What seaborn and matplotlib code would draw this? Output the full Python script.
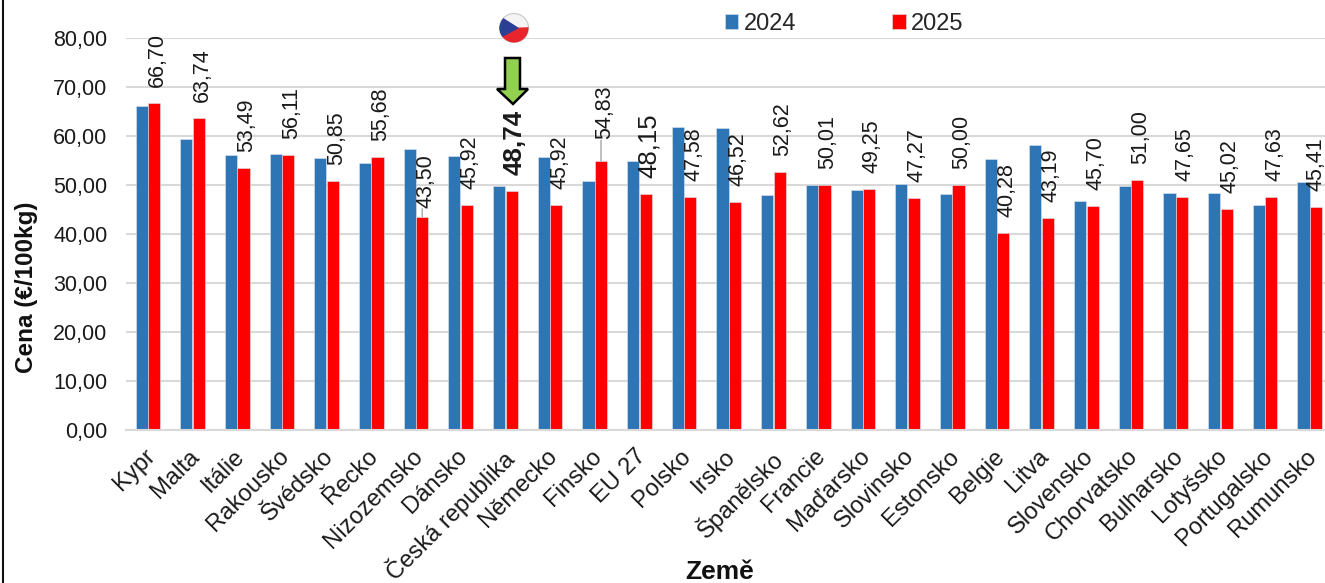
import matplotlib
matplotlib.use("Agg")
import matplotlib.pyplot as plt
from matplotlib.patches import Circle, Polygon
from matplotlib.transforms import ScaledTranslation
import pandas as pd
import seaborn as sns

# data
countries = ["Kypr", "Malta", "Itálie", "Rakousko", "Švédsko", "Řecko", "Nizozemsko", "Dánsko",
             "Česká republika", "Německo", "Finsko", "EU 27", "Polsko", "Irsko", "Španělsko",
             "Francie", "Maďarsko", "Slovinsko", "Estonsko", "Belgie", "Litva", "Slovensko",
             "Chorvatsko", "Bulharsko", "Lotyšsko", "Portugalsko", "Rumunsko"]
prices_2024 = [66.2, 59.4, 56.2, 56.4, 55.6, 54.5, 57.4, 56.0, 49.7, 55.7, 50.9, 54.8, 61.8, 61.6,
               48.0, 50.1, 48.9, 50.3, 48.1, 55.4, 58.2, 46.8, 49.7, 48.4, 48.3, 45.9, 50.7]
prices_2025 = [66.70, 63.74, 53.49, 56.11, 50.85, 55.68, 43.50, 45.92, 48.74, 45.92, 54.83, 48.15,
               47.58, 46.52, 52.62, 50.01, 49.25, 47.27, 50.00, 40.28, 43.19, 45.70, 51.00, 47.65,
               45.02, 47.63, 45.41]
y_ticks = [0, 10, 20, 30, 40, 50, 60, 70, 80]

df = pd.DataFrame({
    "Země": countries * 2,
    "Cena": prices_2024 + prices_2025,
    "Rok": ["2024"] * len(countries) + ["2025"] * len(countries),
})

sns.set_theme(style="white")
plt.rcParams["font.family"] = ["Liberation Sans", "DejaVu Sans"]

W, H = 1325, 583
fig = plt.figure(figsize=(W / 100, H / 100), dpi=100)
ax = fig.add_axes([125.5 / W, (H - 430) / H, (W - 125.5) / W, 392 / H])

sns.barplot(data=df, x="Země", y="Cena", hue="Rok", palette={"2024": "#2e75b6", "2025": "#ff0000"},
            saturation=1, width=0.56, gap=0.03, edgecolor="#dde6f0", linewidth=0.4, ax=ax)

ax.set_xlim(-0.5, 26.34)
ax.set_ylim(0, 80)
ax.set_yticks(y_ticks)
ax.set_yticklabels([f"{t},00" for t in y_ticks], fontsize=15.5, color="#1a1a1a")
ax.tick_params(axis="both", length=0)
ax.tick_params(axis="y", pad=13)
ax.tick_params(axis="x", pad=11)
ax.set_xticks(range(len(countries)))
ax.set_xticklabels(countries, rotation=45, ha="right", va="top", rotation_mode="anchor",
                   fontsize=17.1, color="#1a1a1a")
# nudge the slanted names a little to the left
nudge = ScaledTranslation(-3 / 72, 0, fig.dpi_scale_trans)
for lab in ax.get_xticklabels():
    lab.set_transform(lab.get_transform() + nudge)
ax.grid(axis="y", color="#d9d9d9", linewidth=1.5)
ax.set_axisbelow(True)
sns.despine(ax=ax, left=True, top=True, right=True)
ax.spines["bottom"].set_color("#d9d9d9")
ax.spines["bottom"].set_linewidth(1.5)

ax.set_ylabel("Cena (€/100kg)", fontsize=17.5, fontweight="bold", color="#111111")
ax.yaxis.set_label_coords(-87 / 1199, 0.365)
ax.set_xlabel("Země", fontsize=19, fontweight="bold", color="#111111", va="center")
ax.xaxis.set_label_coords(594 / 1199, -142 / 392)

# labels sit 16 px over the red bars, apart from these two
label_gap = {"Nizozemsko": 9, "Finsko": 22}
label_style = {"Česká republika": {"fontsize": 18.7, "fontweight": "bold"},
               "EU 27": {"fontsize": 18.5}}

for bar, name, val in zip(ax.containers[1], countries, prices_2025):
    gap = label_gap.get(name, 16)
    style = label_style.get(name, {"fontsize": 15.5})
    xc = bar.get_x() + bar.get_width() / 2
    # last label would run off the right edge
    dx = 0 if name == "Rumunsko" else 2.4
    ax.annotate(f"{val:.2f}".replace(".", ","), xy=(xc, val), xytext=(dx, gap * 0.72),
                textcoords="offset points", rotation=90, ha="center", va="bottom",
                color="#1a1a1a", **style)
    if name in label_gap:
        # grey leader line straight up from the bar
        ax.annotate("", xy=(xc, val), xytext=(0, (gap - 1) * 0.72), textcoords="offset points",
                    arrowprops={"arrowstyle": "-", "color": "#a6a6a6", "lw": 1, "shrinkA": 0, "shrinkB": 0})

sns.move_legend(ax, "center", bbox_to_anchor=(844 / W, (H - 24) / H), bbox_transform=fig.transFigure,
                ncol=2, title=None, frameon=False, fontsize=17, handlelength=0.58, handleheight=0.58,
                handletextpad=0.22, columnspacing=4.05)

# overlay in pixel coordinates for the flag, arrow and the frame edge
over = fig.add_axes([0, 0, 1, 1], facecolor="none")
over.set_xlim(0, W)
over.set_ylim(H, 0)
over.axis("off")

disc = Circle((514, 28), 14.5, facecolor="#f4f4f4", edgecolor="#c8c8c8", linewidth=0.8)
over.add_patch(disc)
red = Polygon([(497, 25), (510, 28), (532, 27), (532, 44), (497, 44)], facecolor="#e8242c", edgecolor="none")
blue = Polygon([(497, 14), (519, 28), (497, 40)], facecolor="#2b3f94", edgecolor="none")
for part in (red, blue):
    over.add_patch(part)
    part.set_clip_path(disc)

over.add_patch(Polygon([(505, 58), (520, 58), (520, 89), (528, 89), (513, 104), (497, 89), (505, 89)],
                       facecolor="#92d050", edgecolor="black", linewidth=1.8, joinstyle="miter"))
over.plot([2.5, 2.5], [0, H], color="#111111", linewidth=1.5)

fig.savefig("out.png", dpi=100)
